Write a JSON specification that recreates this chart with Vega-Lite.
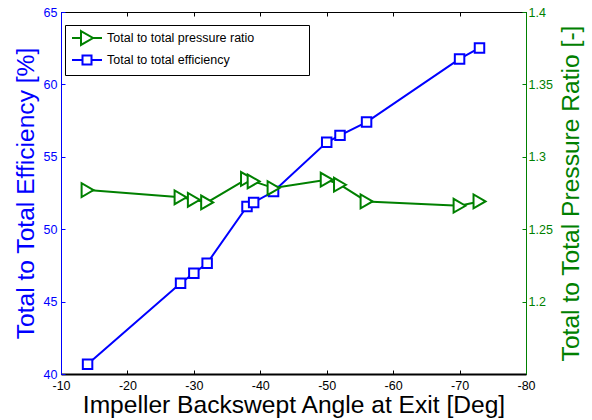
{
  "$schema": "https://vega.github.io/schema/vega-lite/v6.json",
  "width": 465,
  "height": 362,
  "autosize": {"type": "none"},
  "padding": {"left": 61, "top": 12, "right": 66, "bottom": 46},
  "config": {
    "view": {"stroke": "black", "strokeWidth": 1},
    "font": "Liberation Sans",
    "axis": {"grid": false, "labelFont": "Liberation Sans", "titleFont": "Liberation Sans", "titleFontWeight": "normal", "labelFontSize": 12.5, "titleFontSize": 24.6}
  },
  "data": {
    "values": [
      {"series": "Total to total efficiency", "angle": -14, "value": 40.67},
      {"series": "Total to total efficiency", "angle": -28, "value": 46.27},
      {"series": "Total to total efficiency", "angle": -30, "value": 46.96},
      {"series": "Total to total efficiency", "angle": -32, "value": 47.65},
      {"series": "Total to total efficiency", "angle": -38, "value": 51.57},
      {"series": "Total to total efficiency", "angle": -39, "value": 51.85},
      {"series": "Total to total efficiency", "angle": -42, "value": 52.6},
      {"series": "Total to total efficiency", "angle": -50, "value": 56.0},
      {"series": "Total to total efficiency", "angle": -52, "value": 56.48},
      {"series": "Total to total efficiency", "angle": -56, "value": 57.4},
      {"series": "Total to total efficiency", "angle": -70, "value": 61.76},
      {"series": "Total to total efficiency", "angle": -73, "value": 62.52},
      {"series": "Total to total pressure ratio", "angle": -14, "value": 1.277},
      {"series": "Total to total pressure ratio", "angle": -28, "value": 1.272},
      {"series": "Total to total pressure ratio", "angle": -30, "value": 1.2703},
      {"series": "Total to total pressure ratio", "angle": -32, "value": 1.2685},
      {"series": "Total to total pressure ratio", "angle": -38, "value": 1.2847},
      {"series": "Total to total pressure ratio", "angle": -39, "value": 1.283},
      {"series": "Total to total pressure ratio", "angle": -42, "value": 1.2784},
      {"series": "Total to total pressure ratio", "angle": -50, "value": 1.2842},
      {"series": "Total to total pressure ratio", "angle": -52, "value": 1.2807},
      {"series": "Total to total pressure ratio", "angle": -56, "value": 1.2692},
      {"series": "Total to total pressure ratio", "angle": -70, "value": 1.2662},
      {"series": "Total to total pressure ratio", "angle": -73, "value": 1.2692}
    ]
  },
  "encoding": {
    "color": {
      "field": "series", "type": "nominal",
      "scale": {"domain": ["Total to total pressure ratio", "Total to total efficiency"], "range": ["#008000", "#0000ff"]},
      "legend": {
        "title": null, "orient": "none", "legendX": 4, "legendY": 13,
        "strokeColor": "black", "fillColor": "white", "padding": 6,
        "labelFont": "Liberation Sans", "labelFontSize": 12.5, "labelColor": "black", "labelLimit": 400,
        "symbolSize": 144, "symbolStrokeWidth": 2, "symbolFillColor": "white",
        "symbolOffset": 9, "labelOffset": 13, "rowPadding": 2,
        "encode": {"symbols": {"update": {"shape": {"signal": "datum.value === 'Total to total pressure ratio' ? 'M-2.5,0H-1M1,0H2.5M-1,-1.15L1,0L-1,1.15ZM35.3,0' : 'M-2.5,0H-0.75M0.75,0H2.5M-0.75,-0.75H0.75V0.75H-0.75ZM35.3,0'"}}}}
      }
    }
  },
  "layer": [
    {
      "transform": [{"filter": "datum.series === 'Total to total efficiency'"}],
      "encoding": {
        "x": {
          "field": "angle", "type": "quantitative",
          "scale": {"domain": [-80, -10], "reverse": true, "nice": false, "zero": false},
          "axis": {"orient": "bottom", "values": [-10, -20, -30, -40, -50, -60, -70, -80], "labelExpr": "toString(datum.value)",
            "title": "Impeller Backswept Angle at Exit [Deg]", "titleColor": "black", "labelColor": "black",
            "domainColor": "black", "domainWidth": 2, "tickColor": "black", "tickSize": -4, "labelPadding": 9, "titlePadding": 2, "labelFlush": false, "labelOverlap": false}
        },
        "y": {
          "field": "value", "type": "quantitative",
          "scale": {"domain": [40, 65], "nice": false, "zero": false},
          "axis": {"orient": "left", "values": [40, 45, 50, 55, 60, 65], "title": "Total to Total Efficiency [%]",
            "titleColor": "#0000ff", "labelColor": "#0000ff", "domainColor": "#0000ff", "tickColor": "#0000ff",
            "tickSize": -4, "labelPadding": 8, "titlePadding": 5, "labelFlush": false, "labelOverlap": false}
        }
      },
      "layer": [
        {"mark": {"type": "line", "strokeWidth": 2}},
        {"mark": {"type": "point", "shape": "square", "filled": false, "fill": "white", "strokeWidth": 2, "opacity": 1, "size": 90}}
      ]
    },
    {
      "transform": [{"filter": "datum.series === 'Total to total pressure ratio'"}],
      "encoding": {
        "x": {
          "field": "angle", "type": "quantitative",
          "scale": {"domain": [-80, -10], "reverse": true, "nice": false, "zero": false},
          "axis": {"orient": "top", "values": [-10, -20, -30, -40, -50, -60, -70, -80], "labels": false, "title": null,
            "domainColor": "black", "tickColor": "black", "tickSize": -4}
        },
        "y": {
          "field": "value", "type": "quantitative",
          "scale": {"domain": [1.15, 1.4], "nice": false, "zero": false},
          "axis": {"orient": "right", "values": [1.2, 1.25, 1.3, 1.35, 1.4], "format": ".2~f", "title": "Total to Total Pressure Ratio [-]",
            "titleColor": "#008000", "labelColor": "#008000", "domainColor": "#008000", "tickColor": "#008000",
            "tickSize": -4, "labelPadding": 6, "titleAngle": 270, "titleX": 52, "titleY": 181, "titleAlign": "center", "titleBaseline": "alphabetic",
            "labelFlush": false, "labelOverlap": false}
        }
      },
      "layer": [
        {"mark": {"type": "line", "strokeWidth": 2}},
        {"mark": {"type": "point", "shape": "triangle-right", "filled": false, "fill": "white", "strokeWidth": 2, "opacity": 1, "size": 190}}
      ]
    }
  ],
  "resolve": {"scale": {"y": "independent"}, "axis": {"x": "independent"}}
}
